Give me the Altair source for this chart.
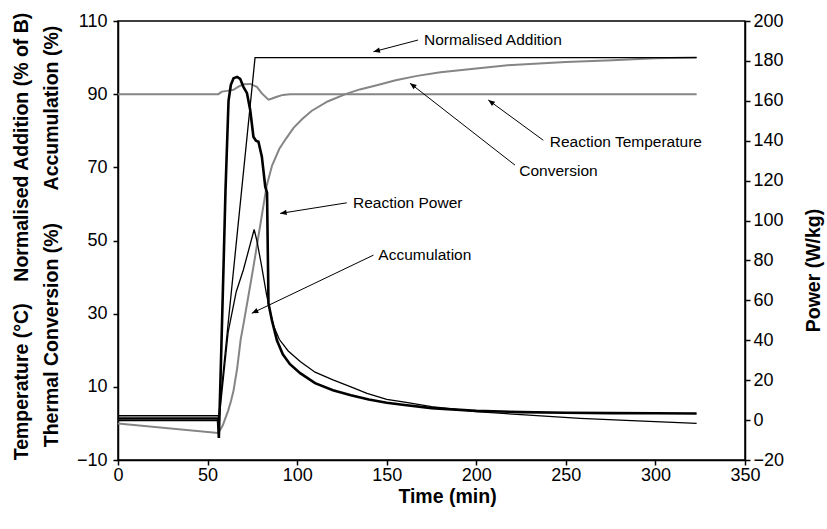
import altair as alt
import pandas as pd

FONT = "Liberation Sans"

# ---------------- data ----------------
# Normalised Addition (% of B) - left axis
add_t = [0, 56.0, 76.5, 323]
add_v = [0.8, 0.8, 100, 100]

# Reaction Temperature (deg C) - left axis
temp_t = [0, 56.0, 58, 61, 64.5, 67, 70, 73.8, 77.5, 80.3, 84, 86, 88.7, 92, 96, 323]
temp_v = [90, 90, 90.7, 90.9, 91.2, 92.0, 92.7, 92.8, 92.0, 90.2, 88.5, 88.8, 89.3, 89.8, 90, 90]

# Thermal Conversion (%) - left axis
conv_t = [0, 55.8, 57, 58.5, 60, 61.5, 63, 64.5, 66.5, 68.5, 70, 72.5, 75.5, 78, 80, 83, 86,
          90, 94, 98, 103, 108, 117, 127, 135, 145, 155, 167, 180, 200, 220, 250, 276, 300, 323]
conv_v = [0, -2.6, -1.8, -0.5, 1.5, 3.5, 6, 9, 15, 23, 27, 34, 42.5, 50, 56, 65, 70.5,
          75, 78, 80.8, 83.3, 85.4, 88, 90, 91.3, 92.5, 93.8, 95, 96, 97, 98, 98.8, 99.3, 99.8, 100]

# Accumulation (%) - left axis
acc_t = [0, 55.8, 56.5, 61.5, 66, 70, 76.0, 77.5, 80, 83, 85, 87, 90, 95, 101.7, 110,
         120, 130, 139, 150, 160, 175, 200, 225, 258, 290, 323]
acc_v = [2.1, 2.1, 1.5, 25, 36, 42, 53, 50, 43.5, 35, 30.5, 26.5, 23, 19.8, 16.9, 14,
         11.9, 10, 8.2, 6.6, 5.8, 4.6, 3.2, 2.4, 1.4, 0.7, 0.0]

# Reaction Power (W/kg) - right axis
pow_t = [0, 55.8, 56.3, 57.5, 59, 60, 61.7, 63, 64.5, 66.5, 68.2, 70, 72, 73.8, 75.6, 77,
         78.4, 80.3, 82.2, 83.2, 84, 85.9, 88.7, 92, 96, 101.7, 110, 120, 130, 140, 150,
         160, 175, 200, 225, 250, 275, 300, 323]
pow_v = [0.8, 0.8, -9, 30, 80, 115, 160, 168, 171.3, 172, 171, 167, 163.8, 155.4, 142, 140,
         139.5, 132, 117, 114, 58.5, 50, 40, 33, 28, 23.5, 18.5, 15, 12.5, 10.3, 8.7,
         7.6, 6, 4.6, 4.0, 3.7, 3.5, 3.4, 3.3]

# Annotations (left-axis units)
ann_text = ["Normalised Addition", "Reaction Temperature", "Conversion", "Reaction Power", "Accumulation"]
ann_tx = [170.8, 241.0, 224.0, 131.2, 145.3]
ann_ty = [104.8, 77.0, 69.1, 60.3, 46.0]
arr_x1 = [167.5, 237.4, 221.6, 127.7, 142.6]
arr_y1 = [104.8, 77.4, 70.6, 60.3, 46.0]
arr_x2 = [142.6, 206.7, 163.0, 90.5, 74.7]
arr_y2 = [101.6, 88.4, 93.0, 57.4, 30.1]
arr_ang = [165, 216, 218, 171, 154]

x_ticks = [0, 50, 100, 150, 200, 250, 300, 350]
left_ticks = [-10, 10, 30, 50, 70, 90, 110]
right_ticks = [-20, 0, 20, 40, 60, 80, 100, 120, 140, 160, 180, 200]

left_title = ["Temperature (°C)" + "\u00a0" * 4 + "Normalised Addition (% of B)",
              "Thermal Conversion (%)" + "\u00a0" * 6 + "Accumulation (%)"]

# ---------------- chart ----------------
def df(t, v):
    return pd.DataFrame({"t": t, "v": v})

x_axis = alt.Axis(values=x_ticks, title="Time (min)", titleX=329, titleY=36,
                  titleBaseline="middle", labelPadding=1, labelFlush=False)
X = alt.X("t:Q", scale=alt.Scale(domain=[0, 350], nice=False, zero=False), axis=x_axis)

left_axis = alt.Axis(values=left_ticks, title=left_title, titleAngle=270,
                     titleX=-97, titleY=215, titleAlign="center", titleBaseline="middle",
                     titleLineHeight=30, labelPadding=6)
left_scale = alt.Scale(domain=[-10, 110], nice=False, zero=False)
YL = alt.Y("v:Q", scale=left_scale, axis=left_axis)

right_axis = alt.Axis(values=right_ticks, title="Power (W/kg)", orient="right",
                      titleAngle=270, titleX=68, titleY=249, titleAlign="center",
                      titleBaseline="middle", labelPadding=3)
YR = alt.Y("v:Q", scale=alt.Scale(domain=[-20, 200], nice=False, zero=False), axis=right_axis)

GRAY = "#858585"

add_l = alt.Chart(df(add_t, add_v)).mark_line(color="black", strokeWidth=1.3).encode(x=X, y=YL)
temp_l = alt.Chart(df(temp_t, temp_v)).mark_line(color=GRAY, strokeWidth=2).encode(x=X, y=YL)
conv_l = alt.Chart(df(conv_t, conv_v)).mark_line(color=GRAY, strokeWidth=2).encode(x=X, y=YL)
acc_l = alt.Chart(df(acc_t, acc_v)).mark_line(color="black", strokeWidth=1.3).encode(x=X, y=YL)

ann_df = pd.DataFrame({"label": ann_text, "tx": ann_tx, "ty": ann_ty,
                       "x1": arr_x1, "y1": arr_y1, "x2": arr_x2, "y2": arr_y2, "ang": arr_ang})

arrows = alt.Chart(ann_df).mark_rule(color="black", strokeWidth=1).encode(
    x=alt.X("x1:Q", scale=alt.Scale(domain=[0, 350], nice=False, zero=False), axis=x_axis),
    x2="x2:Q",
    y=alt.Y("y1:Q", scale=left_scale, axis=left_axis),
    y2="y2:Q",
)
heads = alt.Chart(ann_df).mark_point(shape="M0,0L-1,-0.42L-1,0.42Z", filled=True, size=170,
                                     color="black", opacity=1).encode(
    x=alt.X("x2:Q", scale=alt.Scale(domain=[0, 350], nice=False, zero=False), axis=x_axis),
    y=alt.Y("y2:Q", scale=left_scale, axis=left_axis),
    angle=alt.Angle("ang:Q", scale=None),
)
labels = alt.Chart(ann_df).mark_text(align="left", baseline="middle", fontSize=15.5,
                                     font=FONT, color="black").encode(
    x=alt.X("tx:Q", scale=alt.Scale(domain=[0, 350], nice=False, zero=False), axis=x_axis),
    y=alt.Y("ty:Q", scale=left_scale, axis=left_axis),
    text="label:N",
)

left = alt.layer(temp_l, conv_l, add_l, acc_l, arrows, heads, labels)
right = alt.Chart(df(pow_t, pow_v)).mark_line(color="black", strokeWidth=2.6).encode(x=X, y=YR)

chart = alt.layer(left, right).resolve_scale(y="independent").properties(
    width=627, height=439,
    autosize=alt.AutoSizeParams(type="none"),
    padding={"left": 118, "top": 21, "right": 82, "bottom": 69},
    background="white",
).configure_view(stroke="black", strokeWidth=1.5).configure_axis(
    labelFont=FONT, labelFontSize=18, labelColor="black",
    titleFont=FONT, titleFontSize=19.5, titleFontWeight="bold", titleColor="black",
    domainColor="black", domainWidth=1.5, tickColor="black", tickWidth=1.5, tickSize=5,
    grid=False,
)

chart.save("out.html", embed_options={"renderer": "svg", "actions": False})
